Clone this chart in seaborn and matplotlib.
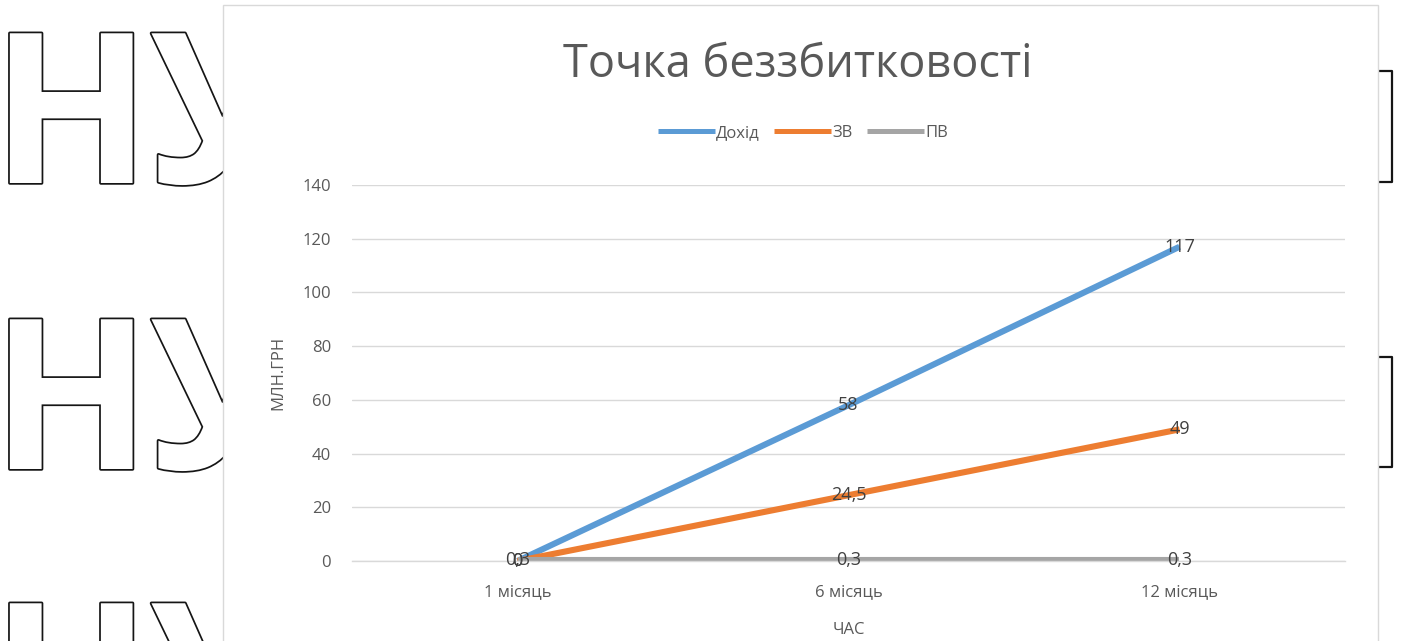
import matplotlib
matplotlib.use("Agg")
import matplotlib.pyplot as plt
import matplotlib.patheffects as pe
from matplotlib.patches import Rectangle
from matplotlib.lines import Line2D
import pandas as pd
import seaborn as sns

# Data: break-even chart (million UAH over time)
periods = ["1 місяць", "6 місяць", "12 місяць"]
series_names = ["Дохід", "ЗВ", "ПВ"]
revenue = [0, 58, 117]
variable_costs = [0, 24.5, 49]
fixed_costs = [0.3, 0.3, 0.3]
colors = ["#5B9BD5", "#ED7D31", "#A5A5A5"]
y_ticks = [0, 20, 40, 60, 80, 100, 120, 140]

W, H = 1406, 641

sns.set_theme(style="white")
plt.rcParams["font.family"] = ["Open Sans", "DejaVu Sans"]

df = pd.DataFrame({
    "period": periods * 3,
    "series": [n for n in series_names for _ in periods],
    "value": revenue + variable_costs + fixed_costs,
})
df["pos"] = df.groupby("series").cumcount()


def fx(px):
    return px / W


def fy(py):
    return 1 - py / H


fig = plt.figure(figsize=(W / 100, H / 100), dpi=100)
fig.patch.set_facecolor("white")

# Slide text behind the chart (outlined letters and brackets)
for base in [183, 469, 753]:
    fig.text(fx(-9), fy(base), "НУ", fontsize=151, fontweight="bold",
             family="Open Sans", color="white", ha="left", va="baseline",
             zorder=-3,
             path_effects=[pe.Stroke(linewidth=2.5, foreground="#151515"),
                           pe.Normal()])
for top, bot in [(71, 182), (357, 467)]:
    fig.add_artist(Line2D([fx(1370), fx(1392), fx(1392), fx(1370)],
                          [fy(top), fy(top), fy(bot), fy(bot)],
                          transform=fig.transFigure, color="#151515",
                          lw=1.6, zorder=-3, solid_joinstyle="round"))

# Chart area box
fig.add_artist(Rectangle((fx(223), fy(680)), fx(1378) - fx(223), (680 - 5) / H,
                         transform=fig.transFigure, facecolor="white",
                         edgecolor="#D9D9D9", lw=1, zorder=-2))

ax = fig.add_axes([fx(352), fy(561), fx(1345) - fx(352), (561 - 185) / H])
ax.set_zorder(0)
ax.patch.set_alpha(0)

sns.lineplot(data=df, x="pos", y="value", hue="series", hue_order=series_names,
             palette=colors, linewidth=4.4, sort=False, legend=False, ax=ax)
for line in ax.get_lines():
    line.set_solid_capstyle("butt")

ax.set_xlim(-0.5, 2.5)
ax.set_ylim(0, 140)
ax.set_yticks(y_ticks)
ax.set_xticks(range(len(periods)))
ax.set_xticklabels(periods)
ax.set_xlabel("")
ax.set_ylabel("")
ax.yaxis.grid(True, color="#D9D9D9", lw=1)
ax.xaxis.grid(False)
ax.set_axisbelow(True)
for side in ["top", "right", "left"]:
    ax.spines[side].set_visible(False)
ax.spines["bottom"].set_color("#D9D9D9")
ax.spines["bottom"].set_linewidth(1)
ax.tick_params(axis="y", length=0, pad=15, labelsize=12, labelcolor="#595959")
ax.tick_params(axis="x", length=0, pad=17, labelsize=12, labelcolor="#595959")


def fmt(v):
    return f"{v:g}".replace(".", ",")


for vals in [revenue, variable_costs, fixed_costs]:
    for i, v in enumerate(vals):
        ax.text(i, v, fmt(v), ha="center", va="center", fontsize=13,
                color="#404040", zorder=5)

# Titles and axis labels
fig.text(fx(798), fy(77), "Точка беззбитковості", ha="center", va="baseline",
         fontsize=32.5, color="#595959")
fig.text(fx(278), fy(373), "МЛН.ГРН", rotation=90, ha="center", va="center",
         fontsize=12, color="#595959")
fig.text(fx(849), fy(630), "ЧАС", ha="center", va="center",
         fontsize=12, color="#595959")

handles = [Line2D([0], [0], color=c, lw=3.6, solid_capstyle="butt") for c in colors]
fig.legend(handles, series_names, loc="center", bbox_to_anchor=(fx(803), fy(133)),
           ncol=3, frameon=False, handlelength=3.4, handletextpad=0.1,
           columnspacing=0.85, fontsize=12, labelcolor="#595959")

fig.savefig("out.png", dpi=100)
